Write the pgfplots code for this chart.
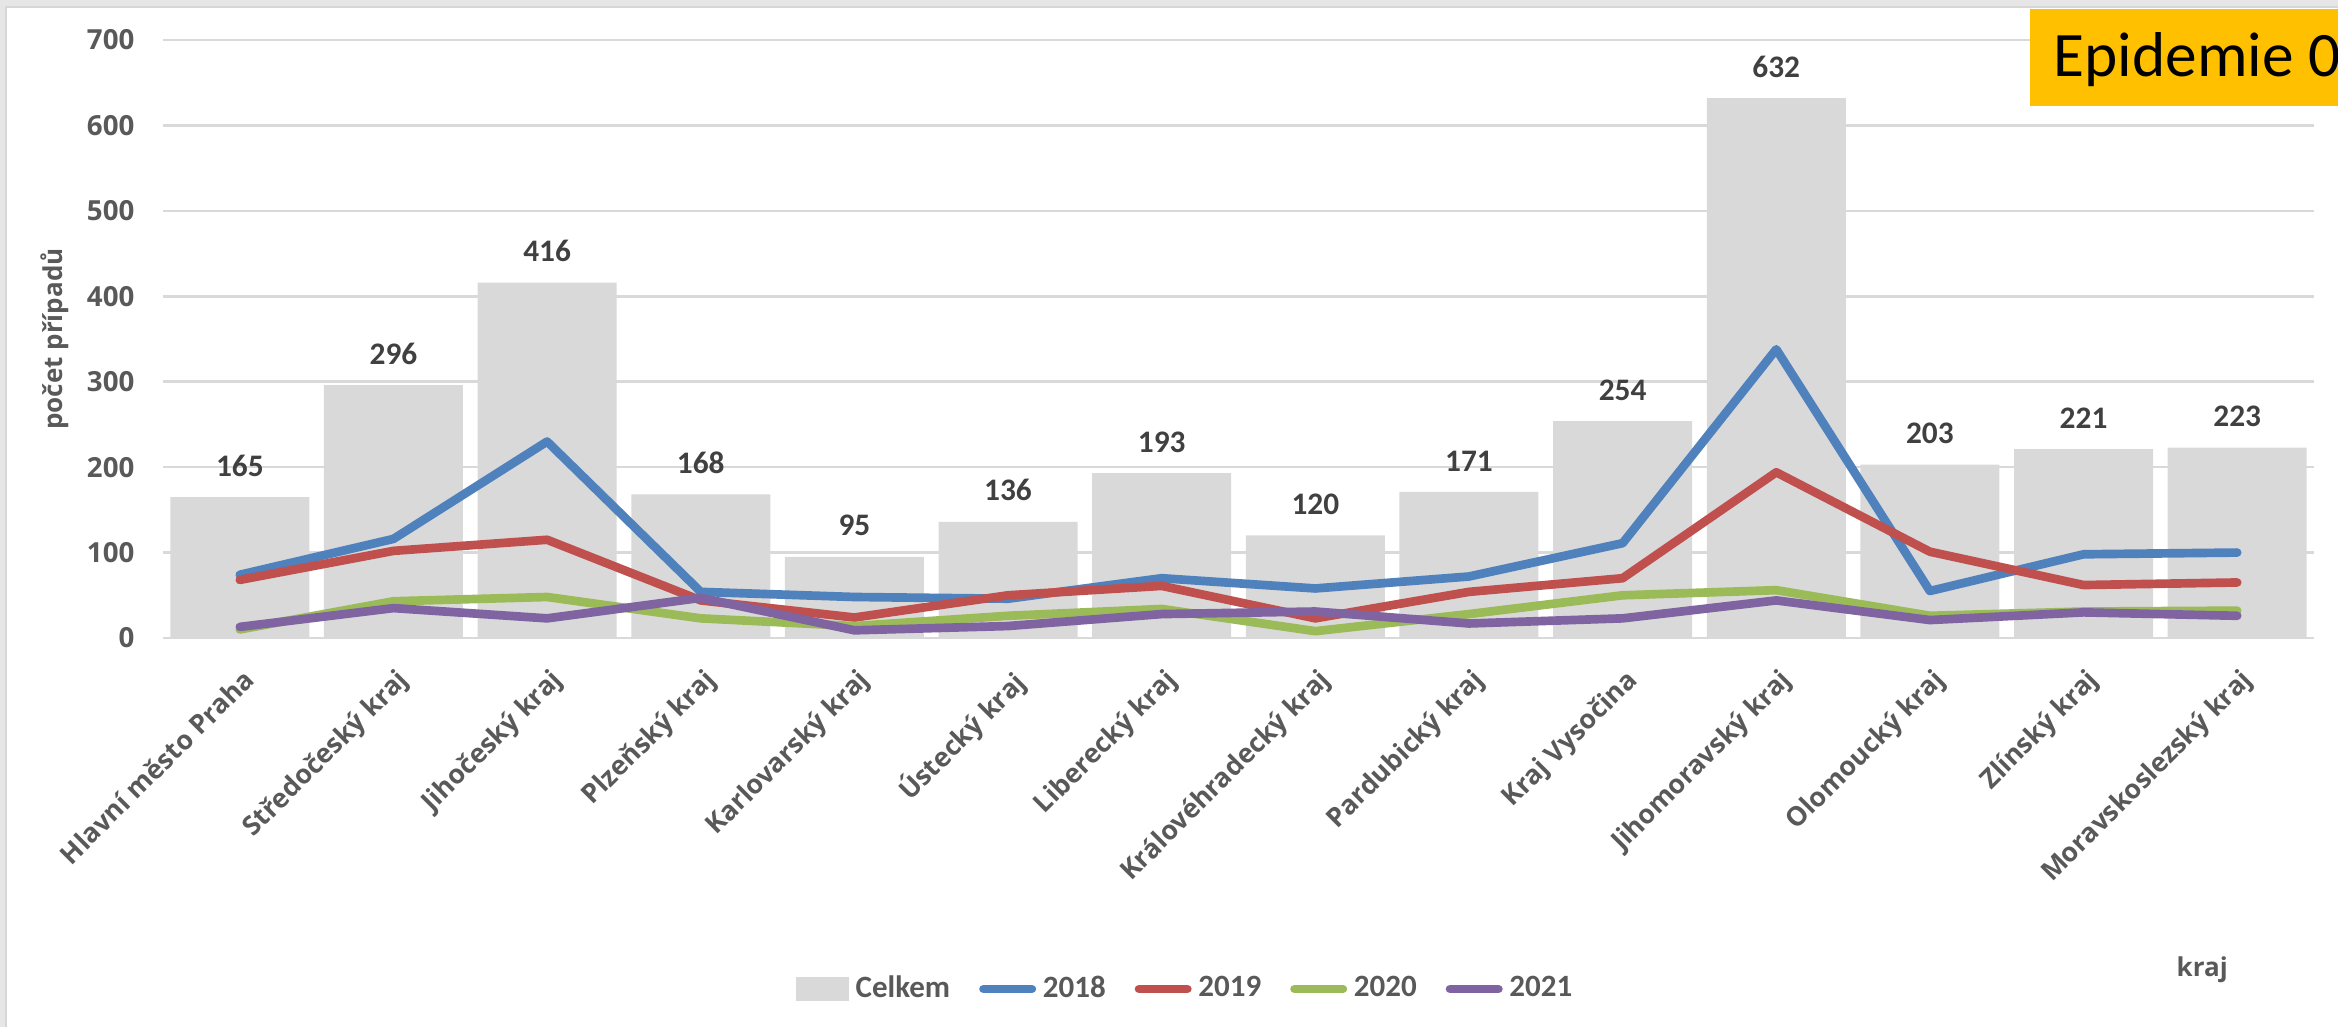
\documentclass[border=0pt]{standalone}
\usepackage{fontspec}
\usepackage{pgfplots}
\usepackage{pgfplotstable}
\pgfplotsset{compat=1.18}
\setmainfont{Carlito}
\newfontfamily\osans{Open Sans}

\definecolor{barfill}{HTML}{D9D9D9}
\definecolor{gridc}{HTML}{D9D9D9}
\definecolor{txt}{HTML}{595959}
\definecolor{lbl}{HTML}{404040}
\definecolor{c18}{HTML}{4F81BD}
\definecolor{c19}{HTML}{C0504D}
\definecolor{c20}{HTML}{9BBB59}
\definecolor{c21}{HTML}{8064A2}
\definecolor{tag}{HTML}{FFC000}
\definecolor{framec}{HTML}{E6E6E6}
\definecolor{framed}{HTML}{D6D6D6}

% cases per region: total and by year
\pgfplotstableread{
x celkem y2018 y2019 y2020 y2021
0  165  74  68 10 13
1  296 116 102 43 35
2  416 230 115 48 23
3  168  54  44 23 47
4   95  48  24 14  9
5  136  46  50 26 14
6  193  70  61 34 28
7  120  58  23  8 31
8  171  72  54 28 17
9  254 111  70 50 23
10 632 338 194 56 44
11 203  55 101 26 21
12 221  98  62 31 30
13 223 100  65 32 26
}\krajdata

\pgfplotsset{
  yearline/.style={#1, line width=2.6pt, line join=round, line cap=round, mark=none,
    legend image code/.code={\draw (1.3pt,0pt) -- (15.8pt,0pt);}},
}

\begin{document}
\begin{tikzpicture}
\path[use as bounding box] (0,0) rectangle (701.4pt,308.1pt);
% outer frame
\fill[framec] (0,0) rectangle (1.8pt,308.1pt);
\fill[framec] (0,306pt) rectangle (701.4pt,308.1pt);
\draw[framed, line width=0.5pt] (1.8pt,0) -- (1.8pt,306pt) -- (701.4pt,306pt);

\begin{axis}[
  at={(48.9pt,116.7pt)}, anchor=south west, scale only axis,
  width=645.3pt, height=179.4pt,
  xmin=-0.5, xmax=13.5, ymin=0, ymax=700,
  ytick={0,100,...,700},
  xtick={0,...,13},
  xticklabels={Hlavní město Praha, Středočeský kraj, Jihočeský kraj, Plzeňský kraj,
    Karlovarský kraj, Ústecký kraj, Liberecký kraj, Královéhradecký kraj,
    Pardubický kraj, Kraj Vysočina, Jihomoravský kraj, Olomoucký kraj,
    Zlínský kraj, Moravskoslezský kraj},
  axis line style={draw=none},
  major tick length=0pt,
  ymajorgrids, grid style={gridc, line width=0.75pt},
  /pgf/number format/assume math mode=true,
  yticklabel style={anchor=east, inner sep=0pt, xshift=-8.4pt,
    font=\osans\bfseries\fontsize{8.3}{9}\selectfont, text=txt},
  xticklabel style={xshift=0.5pt, yshift=-8.5pt, rotate=45, anchor=north east,
    inner sep=0pt,
    font=\osans\bfseries\fontsize{8}{9}\selectfont, text=txt},
  ylabel={počet případů},
  ylabel style={at={(axis description cs:-0.0502,0.5)}, anchor=center,
    font=\osans\bfseries\fontsize{7.8}{9}\selectfont, text=txt},
  xlabel={kraj},
  xlabel style={at={(axis description cs:0.948,-0.555)}, anchor=center,
    font=\osans\bfseries\fontsize{7.8}{9}\selectfont, text=txt},
  legend columns=5,
  legend style={at={(axis description cs:0.2943,-0.587)}, anchor=west,
    draw=none, fill=none, inner sep=0pt, outer sep=0pt,
    font=\bfseries\fontsize{9.3}{11}\selectfont, text=txt,
    nodes={inner sep=0pt},
    /tikz/every odd column/.append style={column sep=2pt},
    /tikz/every even column/.append style={column sep=8.7pt}},
]
\addplot[ybar, bar width=41.7pt, fill=barfill, draw=none,
  nodes near coords,
  nodes near coords style={font=\bfseries\fontsize{9.4}{11}\selectfont,
    text=lbl, anchor=south, inner sep=0pt, yshift=6pt},
  legend image code/.code={\fill[barfill] (0pt,-3.6pt) rectangle (15.9pt,3.6pt);}]
  table[x=x, y=celkem]{\krajdata};
\addplot[yearline=c18] table[x=x, y=y2018]{\krajdata};
\addplot[yearline=c19] table[x=x, y=y2019]{\krajdata};
\addplot[yearline=c20] table[x=x, y=y2020]{\krajdata};
\addplot[yearline=c21] table[x=x, y=y2021]{\krajdata};
\legend{Celkem, 2018, 2019, 2020, 2021}
\end{axis}

% title tag in the top right corner
\fill[tag] (609pt,276.3pt) rectangle (701.4pt,305.4pt);
\begin{scope}
\clip (609pt,276.3pt) rectangle (701.4pt,305.4pt);
\node[anchor=base west, inner sep=0pt, font=\fontsize{19}{22}\selectfont]
  at (615.9pt,285pt) {Epidemie 0};
\end{scope}
\end{tikzpicture}
\end{document}
